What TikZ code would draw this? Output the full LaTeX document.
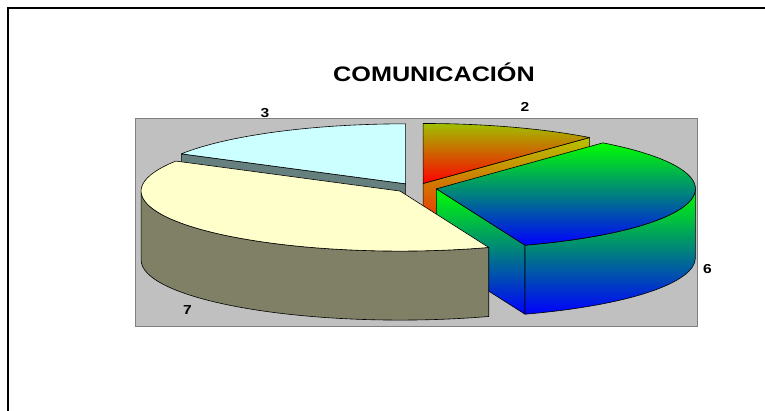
\documentclass[tikz,border=0pt]{standalone}
\usepackage{fontspec}
\setmainfont{Liberation Sans}
\usetikzlibrary{calc}

\definecolor{plotgray}{RGB}{192,192,192}
\definecolor{plotedge}{RGB}{128,128,128}
\definecolor{creamtop}{RGB}{255,255,204}
\definecolor{creamside}{RGB}{128,128,102}
\definecolor{cyantop}{RGB}{204,255,255}
\definecolor{cyanside}{RGB}{102,128,128}
\definecolor{olivetop}{RGB}{160,192,0}
\definecolor{oliveside}{RGB}{180,196,0}

\begin{document}
\begin{tikzpicture}[x=1pt,y=1pt,
  slice/.style={draw=black,line width=0.6pt,line join=round},
  lbl/.style={font=\bfseries\fontsize{13}{15}\selectfont,inner sep=0pt,anchor=base}]
\useasboundingbox (0,0) rectangle (765,411);
\clip (0,0) rectangle (765,411);
\fill[white] (0,0) rectangle (765,411);
\draw[line width=1.3pt] (8,-20) -- (8,403) -- (790,403);   %frame of the chart.

% Define pie parameters.
\def\cx{416}      %centre, x.
\def\cy{223}      %centre, y.
\def\rx{259}      %x radius.
\def\ry{60}       %y radius.
\def\pieh{69}     %height of the pie.
\def\ex{0.08}     %explosion of every slice.

% Define coordinates: apex of each slice, then its rim points.
\coordinate (c2) at ({\cx+\ex*\rx*cos(70)},{\cy+\ex*\ry*sin(70)});
\coordinate (c6) at ({\cx+\ex*\rx*cos(-10)},{\cy+\ex*\ry*sin(-10)});
\coordinate (c7) at ({\cx+\ex*\rx*cos(220)},{\cy+\ex*\ry*sin(220)});
\coordinate (c3) at ({\cx+\ex*\rx*cos(120)},{\cy+\ex*\ry*sin(120)});

\coordinate (p2a) at ($(c2)+({\rx*cos(50)},{\ry*sin(50)})$);
\coordinate (p6a) at ($(c6)+({\rx*cos(-70)},{\ry*sin(-70)})$);
\coordinate (p7a) at ($(c7)+({\rx*cos(150)},{\ry*sin(150)})$);
\coordinate (p7l) at ($(c7)+({\rx*cos(180)},{\ry*sin(180)})$);
\coordinate (p3a) at ($(c3)+({\rx*cos(90)},{\ry*sin(90)})$);
\coordinate (p3b) at ($(c3)+({\rx*cos(150)},{\ry*sin(150)})$);

% Plot area.
\filldraw[fill=plotgray,draw=plotedge,line width=0.8pt] (135,85) rectangle (697,293);

% Title.
\node[font=\bfseries\fontsize{21}{25}\selectfont,inner sep=0pt,anchor=base] (title) at (434,329) {\scalebox{1.2}[1]{COMUNICACIÓN}};

% SLICE 3
\filldraw[slice,fill=cyanside] (c3) -- (p3b) -- ++(0,-\pieh) -- ($(c3)+(0,-\pieh)$) -- cycle;
\filldraw[slice,fill=cyantop] (c3) -- (p3a) arc[start angle=90,end angle=150,x radius=\rx,y radius=\ry] -- cycle;

% SLICE 2
\shadedraw[slice,top color=oliveside,bottom color=red] (c2) -- (p2a) -- ++(0,-\pieh) -- ($(c2)+(0,-\pieh)$) -- cycle;
\shadedraw[slice,top color=olivetop,bottom color=red] (c2) -- (p2a) arc[start angle=50,end angle=90,x radius=\rx,y radius=\ry] -- cycle;

% SLICE 6
\shadedraw[slice,top color=green,bottom color=blue] (c6) -- (p6a) -- ++(0,-\pieh) -- ($(c6)+(0,-\pieh)$) -- cycle;
\shadedraw[slice,top color=green,bottom color=blue] (p6a) arc[start angle=-70,end angle=0,x radius=\rx,y radius=\ry] -- ++(0,-\pieh) arc[start angle=0,end angle=-70,x radius=\rx,y radius=\ry] -- cycle;
\shadedraw[slice,top color=green,bottom color=blue] (c6) -- (p6a) arc[start angle=-70,end angle=50,x radius=\rx,y radius=\ry] -- cycle;

% SLICE 7
\filldraw[slice,fill=creamside] (p7l) arc[start angle=180,end angle=290,x radius=\rx,y radius=\ry] -- ++(0,-\pieh) arc[start angle=290,end angle=180,x radius=\rx,y radius=\ry] -- cycle;
\filldraw[slice,fill=creamtop] (c7) -- (p7a) arc[start angle=150,end angle=290,x radius=\rx,y radius=\ry] -- cycle;

% Data labels.
\node[lbl] (l3) at (265,293.5) {\scalebox{1.2}[1]{3}};
\node[lbl] (l2) at (525,299) {\scalebox{1.2}[1]{2}};
\node[lbl] (l6) at (707.5,137) {\scalebox{1.2}[1]{6}};
\node[lbl] (l7) at (187.5,96) {\scalebox{1.2}[1]{7}};

\end{tikzpicture}
\end{document}
